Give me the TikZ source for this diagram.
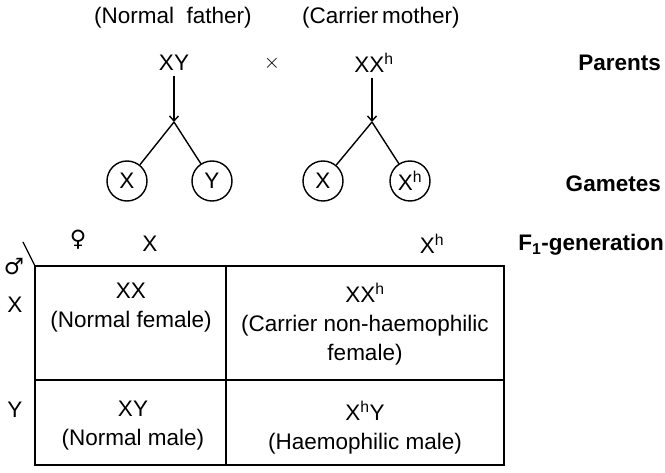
\documentclass[tikz,border=0pt]{standalone}
\usepackage{fontspec}
\setmainfont{Liberation Sans}
\newfontfamily\symfont{DejaVu Sans}
\usetikzlibrary{arrows.meta}
\tikzset{
  txt/.style={font=\fontsize{22.5}{29}\selectfont, inner sep=0pt, align=center},
  lbl/.style={font=\bfseries\fontsize{22.5}{26}\selectfont, inner sep=0pt, anchor=east},
  gamete/.style={draw, circle, line width=1.4pt, minimum size=40pt, inner sep=0pt,
    font=\fontsize{22.5}{26}\selectfont},
  branch/.style={line width=1.4pt},
  stem/.style={line width=1.4pt, -{Straight Barb[length=5pt,width=9pt]}},
  grid/.style={line width=1.3pt}
}
\begin{document}
\begin{tikzpicture}[x=1pt,y=-1pt]
\useasboundingbox (0,0) rectangle (665,473);

% parents
\node[txt] (fatherlbl) at (173,18) {(Normal\ \ father)};
\node[txt] (motherlbl) at (381,18) {(Carrier\,mother)};
\node[txt] (father) at (174,63) {XY};
\node[txt] (cross) at (272,63) {$\times$};
\node[txt] (mother) at (374,63) {XX\textsuperscript{h}};

% branching points
\coordinate (fj) at (174,122);
\coordinate (mj) at (372,122);

% gametes
\node[gamete] (g1) at (127,181) {X};
\node[gamete] (g2) at (212,181) {Y};
\node[gamete] (g3) at (323,181) {X};
\node[gamete] (g4) at (410,181) {X\textsuperscript{h}};

\draw[stem] (father.south) ++(0,5) coordinate (fs) (fs) -- (fj);
\draw[stem] (mother.south) ++(-2,5) coordinate (ms) (ms) -- (mj);
\draw[branch] (fj) -- (g1);
\draw[branch] (fj) -- (g2);
\draw[branch] (mj) -- (g3);
\draw[branch] (mj) -- (g4);

% row labels
\node[lbl] (parents) at (661,63) {Parents};
\node[lbl] (gametes) at (661,184) {Gametes};
\node[lbl] (f1) at (664,245) {F\textsubscript{1}-generation};

% checkerboard
\coordinate (tl) at (35,266);
\coordinate (tr) at (504,266);
\coordinate (bl) at (35,465);
\coordinate (br) at (504,465);
\coordinate (corner) at (23,242);
\draw[grid] (corner) -- (tl);
\draw[grid] (tl) -- (tr) -- (br) -- (bl) -- cycle;
\draw[grid] (226,266) -- (226,465);
\draw[grid] (35,380) -- (504,380);

% gamete headers
\node[txt] (fem) at (78,240) {\symfont ♀};
\node[txt] (fx) at (150,244) {X};
\node[txt] (fxh) at (432,244) {X\textsuperscript{h}};
\node[txt] (mal) at (14,267) {\symfont ♂};
\node[txt] (mx) at (15,305) {X};
\node[txt] (my) at (15,410) {Y};

% offspring
\node[txt, anchor=north] (c11) at (131,283) {XX\\(Normal female)};
\node[txt, anchor=north] (c12) at (365,283) {XX\textsuperscript{h}\\(Carrier non-haemophilic\\female)};
\node[txt, anchor=north] (c21) at (133,401) {XY\\(Normal male)};
\node[txt, anchor=north] (c22) at (365,401) {X\textsuperscript{h}Y\\(Haemophilic male)};
\end{tikzpicture}
\end{document}
